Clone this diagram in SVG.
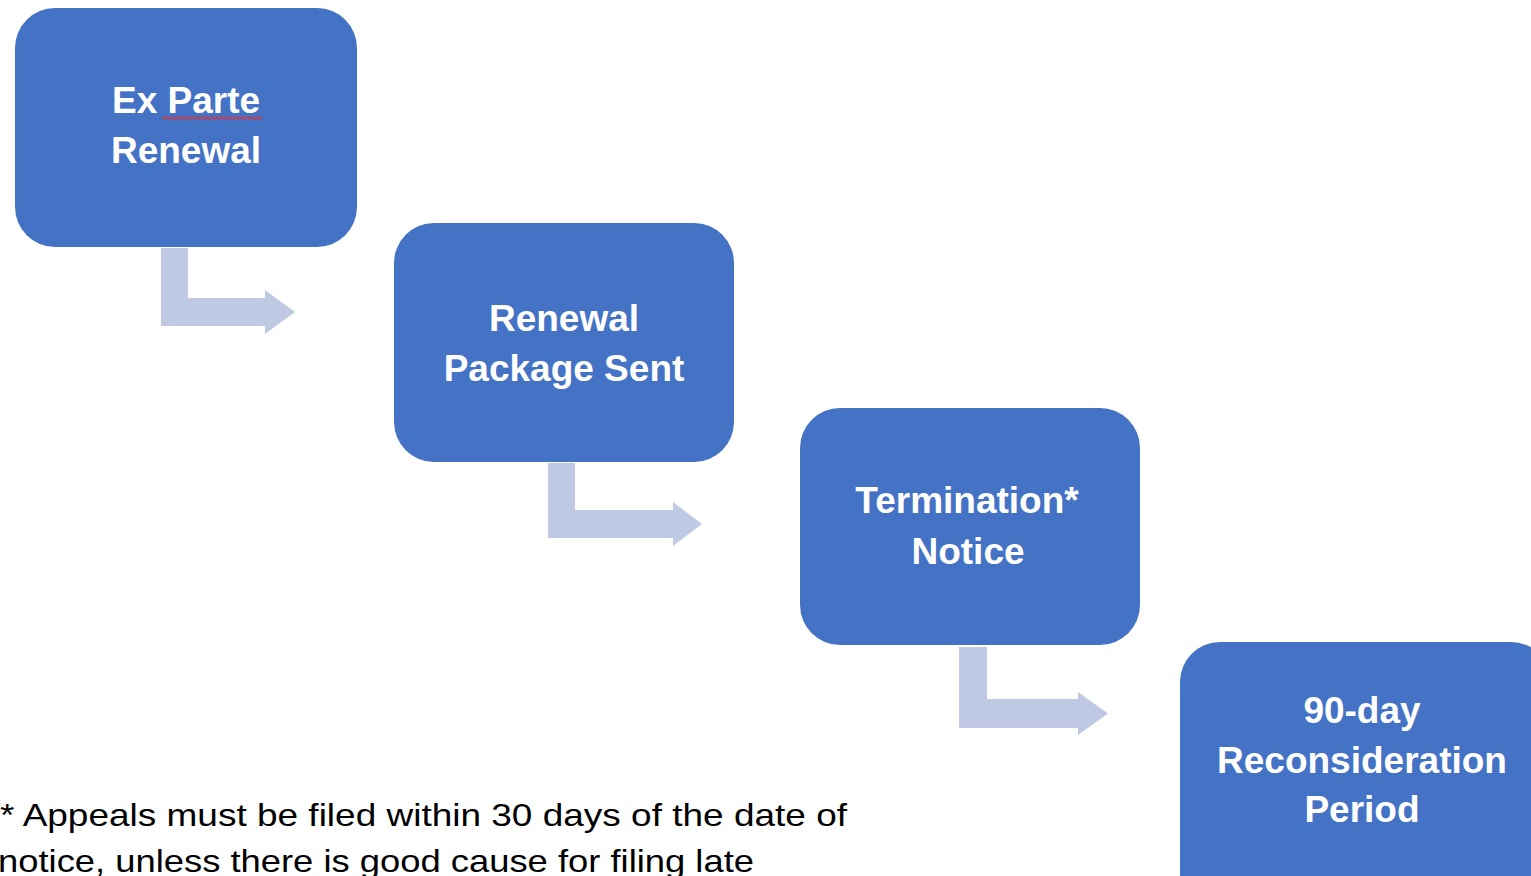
<svg xmlns="http://www.w3.org/2000/svg" width="1531" height="876" viewBox="0 0 1531 876">
<style>
.box{fill:#4472C4;}
.arr{fill:#BFC9E4;}
.lbl{font-family:"Liberation Sans",Arial,sans-serif;font-weight:bold;font-size:37px;fill:#FFFFFF;text-anchor:middle;}
.note{font-family:"Liberation Sans",Arial,sans-serif;font-size:32px;fill:#000000;}
</style>
<rect width="1531" height="876" fill="#FFFFFF"/>
<g id="connectors">
<polygon class="arr" points="161,248 188,248 188,298 265,298 265,290 295,312 265,334 265,326 161,326"/>
<polygon class="arr" points="548,463 575,463 575,510 673,510 673,502 702,524 673,546 673,538 548,538"/>
<polygon class="arr" points="959,647 987,647 987,699 1078,699 1078,692 1108,713.5 1078,735 1078,728 959,728"/>
</g>
<g id="node1">
<rect class="box" x="15" y="8" width="342" height="239" rx="40" ry="40"/>
<text class="lbl" x="186" y="113">Ex Parte</text>
<text class="lbl" x="186" y="163">Renewal</text>
<path d="M162,117 l2.5,2 l2.5,-2 l2.5,2 l2.5,-2 l2.5,2 l2.5,-2 l2.5,2 l2.5,-2 l2.5,2 l2.5,-2 l2.5,2 l2.5,-2 l2.5,2 l2.5,-2 l2.5,2 l2.5,-2 l2.5,2 l2.5,-2 l2.5,2 l2.5,-2 l2.5,2 l2.5,-2 l2.5,2 l2.5,-2 l2.5,2 l2.5,-2 l2.5,2 l2.5,-2 l2.5,2 l2.5,-2 l2.5,2 l2.5,-2 l2.5,2 l2.5,-2 l2.5,2 l2.5,-2 l2.5,2 l2.5,-2 l2.5,2 l2.5,-2" fill="none" stroke="#D6393F" stroke-width="1.5"/>
</g>
<g id="node2">
<rect class="box" x="394" y="223" width="340" height="239" rx="40" ry="40"/>
<text class="lbl" x="564" y="331">Renewal</text>
<text class="lbl" x="564" y="381">Package Sent</text>
</g>
<g id="node3">
<rect class="box" x="800" y="408" width="340" height="237" rx="40" ry="40"/>
<text class="lbl" x="967" y="513">Termination*</text>
<text class="lbl" x="968" y="564">Notice</text>
</g>
<g id="node4">
<rect class="box" x="1180" y="642" width="371" height="280" rx="40" ry="40"/>
<text class="lbl" x="1362" y="723">90-day</text>
<text class="lbl" x="1362" y="773">Reconsideration</text>
<text class="lbl" x="1362" y="822">Period</text>
</g>
<g id="footnote">
<text class="note" x="0" y="826" textLength="847" lengthAdjust="spacingAndGlyphs">* Appeals must be filed within 30 days of the date of</text>
<text class="note" x="-2" y="872" textLength="756" lengthAdjust="spacingAndGlyphs">notice, unless there is good cause for filing late</text>
</g>
</svg>
